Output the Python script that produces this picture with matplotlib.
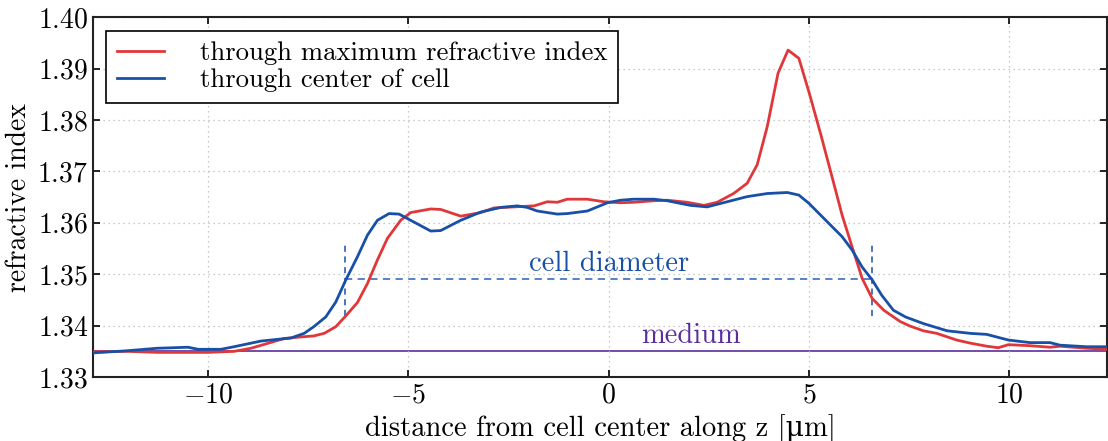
import numpy as np
import matplotlib
matplotlib.use("Agg")
import matplotlib.pyplot as plt

plt.rcParams['font.family'] = ['cmr10', 'DejaVu Serif']
plt.rcParams['mathtext.fontset'] = 'cm'
plt.rcParams['axes.formatter.use_mathtext'] = True
plt.rcParams['axes.unicode_minus'] = True

# profile through maximum refractive index
z_max = [-12.87, -12.0, -11.27, -10.0, -9.35, -8.93, -8.51, -8.10, -7.68, -7.36,
         -7.10, -6.81, -6.56, -6.27, -6.02, -5.77, -5.52, -5.19, -4.94, -4.44,
         -4.19, -3.69, -3.19, -2.86, -1.86, -1.53, -1.28, -1.03, -0.53, -0.12,
         0.30, 0.63, 1.13, 1.46, 1.96, 2.38, 2.71, 3.12, 3.46, 3.71,
         3.96, 4.23, 4.48, 4.75, 5.00, 5.29, 5.58, 5.83, 6.08, 6.33,
         6.58, 6.87, 7.28, 7.53, 7.86, 8.19, 8.69, 9.03, 9.44, 9.73,
         9.98, 10.52, 11.02, 11.27, 11.94, 12.44]
n_max = [1.3349, 1.3350, 1.3348, 1.3348, 1.3350, 1.3356, 1.33655, 1.3375, 1.3378, 1.3380,
         1.3385, 1.3398, 1.3419, 1.3445, 1.3482, 1.3528, 1.3570, 1.3605, 1.3620, 1.3627,
         1.3626, 1.3613, 1.3620, 1.3629, 1.3633, 1.3641, 1.3640, 1.3646, 1.3646, 1.3641,
         1.3639, 1.3640, 1.3643, 1.3644, 1.3640, 1.3634, 1.3640, 1.3657, 1.3677, 1.3713,
         1.3787, 1.3891, 1.3936, 1.3920, 1.3855, 1.3774, 1.3689, 1.3615, 1.3553, 1.3492,
         1.3453, 1.3430, 1.3408, 1.3399, 1.3390, 1.3385, 1.3372, 1.3366, 1.3360, 1.3357,
         1.3363, 1.3361, 1.3358, 1.3360, 1.3356, 1.3354]

# profile through center of cell
z_cen = [-12.87, -12.05, -11.27, -10.5, -10.25, -9.68, -9.35, -8.68, -7.93, -7.6,
         -7.36, -7.06, -6.81, -6.56, -6.27, -6.02, -5.77, -5.48, -5.23, -4.44,
         -4.19, -3.69, -3.19, -2.69, -2.28, -2.03, -1.78, -1.28, -1.03, -0.53,
         -0.03, 0.30, 0.63, 1.13, 1.46, 2.04, 2.46, 2.96, 3.46, 3.96,
         4.46, 4.75, 5.00, 5.37, 5.83, 6.08, 6.33, 6.58, 6.82, 7.11,
         7.41, 7.86, 8.45, 9.03, 9.44, 9.98, 10.52, 11.02, 11.27, 11.94,
         12.44]
n_cen = [1.3347, 1.3351, 1.3356, 1.3358, 1.3354, 1.3354, 1.3359, 1.3370, 1.3376, 1.3385,
         1.3398, 1.3417, 1.3446, 1.3489, 1.3534, 1.3576, 1.3605, 1.3618, 1.3617, 1.3584,
         1.3585, 1.3605, 1.3621, 1.3630, 1.3633, 1.3630, 1.3623, 1.3617, 1.3618, 1.3623,
         1.3639, 1.3644, 1.3646, 1.3646, 1.3643, 1.3634, 1.3631, 1.3641, 1.3651, 1.3657,
         1.3659, 1.3654, 1.3638, 1.3609, 1.3573, 1.3547, 1.3514, 1.3489, 1.3459, 1.3430,
         1.3417, 1.3404, 1.3390, 1.3385, 1.3383, 1.3372, 1.3367, 1.3367, 1.3362, 1.3359,
         1.3359]

n_medium = 1.335
cell_radius = 6.57
n_diam = 1.349

red = "#e0383a"
blue = "#1850a8"
lightblue = "#4a78c4"
purple = "#5b2d9e"

fig = plt.figure(figsize=(11.08, 4.41), dpi=100)
ax = fig.add_axes([0.084, 0.145, 0.915, 0.816])

ax.axhline(n_medium, color=purple, lw=1.2, zorder=1)
ax.plot(z_max, n_max, color=red, lw=2.0, label="through maximum refractive index", zorder=3)
ax.plot(z_cen, n_cen, color=blue, lw=2.0, label="through center of cell", zorder=3)

# cell diameter markers
ax.plot([-cell_radius, cell_radius], [n_diam, n_diam], ls=(0, (4, 3)), color=lightblue, lw=1.3, zorder=2)
ax.vlines([-cell_radius, cell_radius], 1.3419, 1.3559, linestyles=(0, (4, 3)), color=blue, lw=1.1, zorder=2)

ax.text(0, n_diam + 0.0004, "cell diameter", color=blue, ha="center", va="bottom", fontsize=20.5)
ax.text(2.05, n_medium + 0.0005, "medium", color=purple, ha="center", va="bottom", fontsize=20.5)

ax.set_xlim(-12.87, 12.44)
ax.set_ylim(1.33, 1.40)
ax.set_xticks([-10, -5, 0, 5, 10])
ax.set_yticks([1.33, 1.34, 1.35, 1.36, 1.37, 1.38, 1.39, 1.40])
ax.yaxis.set_major_formatter(matplotlib.ticker.FormatStrFormatter(r"$%.2f$"))
ax.tick_params(direction="in", top=True, right=True, labelsize=20, length=5, width=1.2)
ax.grid(True, ls=(0, (1, 3)), color="#b8b8b8", lw=0.9)
for s in ax.spines.values():
    s.set_linewidth(1.5)
    s.set_color("#222222")

ax.set_xlabel("distance from cell center along z [\u03bcm]", fontsize=20.5)
ax.set_ylabel("refractive index", fontsize=20)

leg = ax.legend(loc="upper left", fontsize=19.2, fancybox=False, framealpha=1,
                edgecolor="black", handlelength=1.75, handletextpad=1.35,
                borderpad=0.4, labelspacing=0.12)
leg.get_frame().set_linewidth(1.2)

fig.savefig("out.png", dpi=100)
